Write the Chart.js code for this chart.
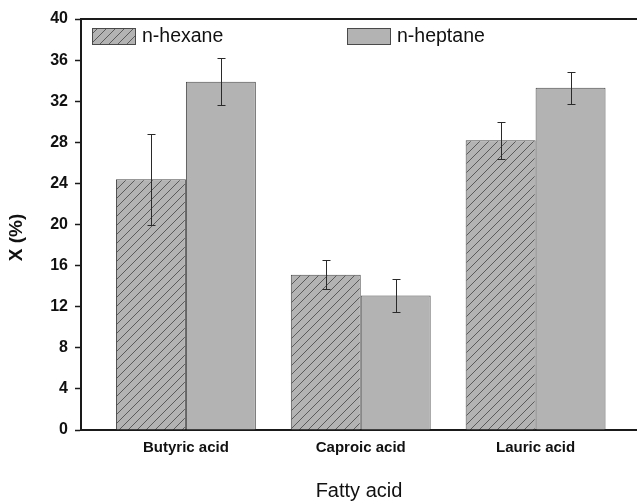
<!DOCTYPE html>
<html>
<head>
<meta charset="utf-8">
<script src="https://cdn.jsdelivr.net/npm/chart.js@4.4.1/dist/chart.umd.min.js"></script>
<style>
  body { margin: 0; background: #fff; }
  #wrap { width: 637px; height: 501px; }
</style>
</head>
<body>
<div id="wrap"><canvas id="chart"></canvas></div>
<script>
// fatty acid conversion
const categories = ['Butyric acid', 'Caproic acid', 'Lauric acid'];
const hexane = [24.4, 15.1, 28.2];
const hexaneErr = [4.4, 1.4, 1.8];
const heptane = [33.9, 13.1, 33.3];
const heptaneErr = [2.3, 1.6, 1.55];
const yTicks = [0, 4, 8, 12, 16, 20, 24, 28, 32, 36, 40];

const FONT = "'Liberation Sans', Arial, sans-serif";
const BAR_GRAY = '#b3b3b3';
const EDGE = '#4a4a4a';

// diagonal hatch for the n-hexane bars
function makeHatch() {
  const c = document.createElement('canvas');
  c.width = 9;
  c.height = 9;
  const g = c.getContext('2d');
  g.fillStyle = BAR_GRAY;
  g.fillRect(0, 0, 9, 9);
  g.strokeStyle = '#505050';
  g.lineWidth = 0.9;
  g.beginPath();
  g.moveTo(0, 9); g.lineTo(9, 0);
  g.moveTo(-1, 1); g.lineTo(1, -1);
  g.moveTo(8, 10); g.lineTo(10, 8);
  g.stroke();
  return g.createPattern(c, 'repeat');
}

const hatch = makeHatch();

/**
 * Error bars drawn from the err arrays, through the y scale
 */
const errorBars = {
  id: 'errorBars',
  afterDatasetsDraw(chart) {
    const { ctx } = chart;
    const y = chart.scales.y;
    ctx.save();
    ctx.strokeStyle = '#2a2a2a';
    ctx.lineWidth = 1;
    chart.data.datasets.forEach((ds, d) => {
      const meta = chart.getDatasetMeta(d);
      meta.data.forEach((bar, i) => {
        const v = ds.data[i].y;
        const e = ds.errors[i];
        const top = Math.round(y.getPixelForValue(v + e)) + 0.5;
        const bot = Math.round(y.getPixelForValue(v - e)) + 0.5;
        const x = Math.round(bar.x) + 0.5;
        ctx.beginPath();
        ctx.moveTo(x, top); ctx.lineTo(x, bot);
        ctx.moveTo(x - 4, top); ctx.lineTo(x + 4, top);
        ctx.moveTo(x - 4, bot); ctx.lineTo(x + 4, bot);
        ctx.stroke();
      });
    });
    ctx.restore();
  }
};

/**
 * Legend inside the plot area, two entries on one row,
 * plus the y title, which sits a little below the axis middle
 */
const insideLegend = {
  id: 'insideLegend',
  afterDraw(chart) {
    const { ctx, chartArea } = chart;
    const offsets = [11, 266];
    ctx.save();
    ctx.font = '19.5px ' + FONT;
    ctx.textBaseline = 'middle';
    chart.data.datasets.forEach((ds, d) => {
      const bx = chartArea.left + offsets[d];
      const by = chartArea.top + 9;
      ctx.fillStyle = ds.backgroundColor;
      ctx.fillRect(bx, by, 44, 17);
      ctx.strokeStyle = EDGE;
      ctx.lineWidth = 1;
      ctx.strokeRect(bx + 0.5, by + 0.5, 43, 16);
      ctx.fillStyle = '#111';
      ctx.fillText(ds.label, bx + 50, by + 9);
    });

    ctx.translate(17, (chartArea.top + chartArea.bottom) / 2 + 13);
    ctx.rotate(-Math.PI / 2);
    ctx.textAlign = 'center';
    ctx.font = 'bold 19px ' + FONT;
    ctx.fillText('X (%)', 0, 0);
    ctx.restore();
  }
};

const chart = new Chart(document.getElementById('chart'), {
  type: 'bar',
  data: {
    datasets: [
      {
        label: 'n-hexane',
        data: categories.map((c, i) => ({ x: i, y: hexane[i] })),
        errors: hexaneErr,
        backgroundColor: hatch,
        borderColor: EDGE,
        borderWidth: 1
      },
      {
        label: 'n-heptane',
        data: categories.map((c, i) => ({ x: i, y: heptane[i] })),
        errors: heptaneErr,
        backgroundColor: BAR_GRAY,
        borderColor: EDGE,
        borderWidth: 1
      }
    ]
  },
  options: {
    responsive: true,
    maintainAspectRatio: false,
    animation: false,
    layout: { padding: { top: 19, right: 0, bottom: 0, left: 0 } },
    categoryPercentage: 0.8,
    barPercentage: 1.0,
    plugins: {
      legend: { display: false },
      tooltip: { enabled: false }
    },
    scales: {
      x: {
        type: 'linear',
        offset: false,
        min: -0.6,
        max: 2.58,
        afterBuildTicks: (scale) => {
          scale.ticks = categories.map((c, i) => ({ value: i }));
        },
        afterFit: (scale) => { scale.height = 71; },
        ticks: {
          callback: (v) => categories[v],
          color: '#111',
          font: { family: FONT, size: 15, weight: 'bold' },
          padding: 1,
          maxRotation: 0
        },
        grid: { display: false, offset: false },
        border: { display: true, color: '#1a1a1a', width: 2 },
        title: {
          display: true,
          text: 'Fatty acid',
          color: '#111',
          font: { family: FONT, size: 20, lineHeight: 1 },
          padding: { top: 0, bottom: 0 }
        }
      },
      xTop: {
        type: 'linear',
        position: 'top',
        offset: false,
        min: -0.6,
        max: 2.58,
        afterFit: (scale) => { scale.height = 0; },
        ticks: { display: false },
        grid: { display: false },
        border: { display: true, color: '#1a1a1a', width: 2 }
      },
      y: {
        min: 0,
        max: 40,
        afterBuildTicks: (scale) => {
          scale.ticks = yTicks.map(v => ({ value: v }));
        },
        afterFit: (scale) => { scale.width = 81; },
        ticks: {
          color: '#111',
          font: { family: FONT, size: 16, weight: 'bold' },
          padding: 7
        },
        grid: {
          drawOnChartArea: false,
          drawTicks: true,
          tickLength: 6,
          tickColor: '#1a1a1a',
          tickWidth: 1.5
        },
        border: { display: true, color: '#1a1a1a', width: 2 }
      }
    }
  },
  plugins: [errorBars, insideLegend]
});
</script>
</body>
</html>
